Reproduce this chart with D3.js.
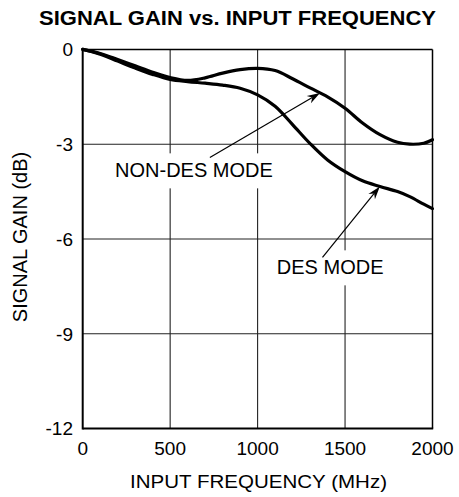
<!DOCTYPE html>
<html>
<head>
<meta charset="utf-8">
<script src="https://cdn.jsdelivr.net/npm/d3@7"></script>
<style>
  html, body { margin: 0; padding: 0; background: #fff; }
  svg { display: block; }
  text { font-family: "Liberation Sans", Arial, Helvetica, sans-serif; fill: #000; }
</style>
</head>
<body>
<svg id="chart" width="459" height="497"></svg>
<script>
// Frequency sample points (MHz)
const freq = [0, 100, 200, 300, 400, 500, 600, 700, 800, 900, 1000, 1100, 1200, 1300, 1400, 1500, 1600, 1700, 1800, 1870, 1950, 2000];
// Signal gain (dB), non-DES mode
const nonDesGain = [0, -0.13, -0.32, -0.52, -0.72, -0.89, -0.98, -0.9, -0.75, -0.64, -0.6, -0.67, -0.93, -1.22, -1.5, -1.86, -2.33, -2.7, -2.94, -3.0, -2.97, -2.86];
// Signal gain (dB), DES mode
const desGain = [0, -0.15, -0.37, -0.59, -0.79, -0.95, -1.02, -1.07, -1.13, -1.23, -1.44, -1.8, -2.38, -2.98, -3.5, -3.87, -4.16, -4.34, -4.5, -4.66, -4.9, -5.04];

const xTicks = [0, 500, 1000, 1500, 2000];
const yTicks = [0, -3, -6, -9, -12];

const titleText = "SIGNAL GAIN vs. INPUT FREQUENCY";
const xTitle = "INPUT FREQUENCY (MHz)";
const yTitle = "SIGNAL GAIN (dB)";

// Callouts: label anchor (freq, dB), arrow tail (freq, dB), arrow target frequency on its curve
const callouts = [
  { label: "NON-DES MODE", labelF: 185, labelG: -4.05, tailF: 727, tailG: -3.42, targetF: 1357, series: "nonDes" },
  { label: "DES MODE", labelF: 1110, labelG: -7.12, tailF: 1371, tailG: -6.58, targetF: 1699, series: "des" }
];

const svg = d3.select("#chart");
const plot = { left: 82.7, right: 432.5, top: 49.4, bottom: 428.5 };

const x = d3.scaleLinear().domain([0, 2000]).range([plot.left, plot.right]);
const y = d3.scaleLinear().domain([-12, 0]).range([plot.bottom, plot.top]);

// Title
svg.append("text")
  .attr("x", 39).attr("y", 25)
  .attr("font-size", 20).attr("font-weight", "bold")
  .attr("textLength", 397).attr("lengthAdjust", "spacingAndGlyphs")
  .text(titleText);

// Grid lines
const grid = svg.append("g").attr("stroke", "#222").attr("stroke-width", 1.1);
grid.selectAll("line.v").data(xTicks.slice(1, -1)).join("line")
  .attr("x1", d => x(d)).attr("x2", d => x(d))
  .attr("y1", plot.top).attr("y2", plot.bottom);
grid.selectAll("line.h").data(yTicks.slice(1, -1)).join("line")
  .attr("x1", plot.left).attr("x2", plot.right)
  .attr("y1", d => y(d)).attr("y2", d => y(d));

// Frame
svg.append("line").attr("x1", plot.left).attr("x2", plot.right).attr("y1", plot.top).attr("y2", plot.top)
  .attr("stroke", "#000").attr("stroke-width", 1.5);
svg.append("line").attr("x1", plot.right).attr("x2", plot.right).attr("y1", plot.top).attr("y2", plot.bottom)
  .attr("stroke", "#000").attr("stroke-width", 1.5);
svg.append("line").attr("x1", plot.left).attr("x2", plot.left).attr("y1", plot.top - 0.7).attr("y2", plot.bottom + 1)
  .attr("stroke", "#000").attr("stroke-width", 2);
svg.append("line").attr("x1", plot.left).attr("x2", plot.right + 0.7).attr("y1", plot.bottom).attr("y2", plot.bottom)
  .attr("stroke", "#000").attr("stroke-width", 2);

// Tick labels
svg.append("g").selectAll("text").data(yTicks).join("text")
  .attr("x", 73).attr("y", d => y(d)).attr("dy", "0.36em")
  .attr("text-anchor", "end").attr("font-size", 19)
  .text(d => d);
svg.append("g").selectAll("text").data(xTicks).join("text")
  .attr("x", d => x(d)).attr("y", 455)
  .attr("text-anchor", "middle").attr("font-size", 19)
  .text(d => d);

// Axis titles
svg.append("text")
  .attr("x", 130).attr("y", 488)
  .attr("font-size", 19)
  .attr("textLength", 257).attr("lengthAdjust", "spacingAndGlyphs")
  .text(xTitle);
svg.append("text")
  .attr("transform", "translate(27,237) rotate(-90)")
  .attr("text-anchor", "middle").attr("font-size", 20)
  .text(yTitle);

// Curves
const seriesData = {
  nonDes: freq.map((f, i) => [f, nonDesGain[i]]),
  des: freq.map((f, i) => [f, desGain[i]])
};
const line = d3.line().x(d => x(d[0])).y(d => y(d[1])).curve(d3.curveCatmullRom.alpha(0.5));
const curves = svg.append("g").attr("fill", "none").attr("stroke", "#000").attr("stroke-width", 3.2)
  .attr("stroke-linejoin", "round").attr("stroke-linecap", "round");
curves.append("path").attr("d", line(seriesData.nonDes));
curves.append("path").attr("d", line(seriesData.des));

// Callout labels with white knock-out background, then arrows
const gainAt = (series, f) => {
  const g = series === "nonDes" ? nonDesGain : desGain;
  const i = d3.bisectLeft(freq, f);
  if (freq[i] === f) return g[i];
  const t = (f - freq[i - 1]) / (freq[i] - freq[i - 1]);
  return g[i - 1] + t * (g[i] - g[i - 1]);
};

callouts.forEach(c => {
  const lx = x(c.labelF), ly = y(c.labelG);
  const t = svg.append("text")
    .attr("x", lx).attr("y", ly)
    .attr("font-size", 20)
    .text(c.label);
  const bb = t.node().getBBox();
  svg.insert("rect", () => t.node())
    .attr("x", bb.x - 2).attr("y", ly - 24)
    .attr("width", bb.width + 4).attr("height", 35)
    .attr("fill", "#fff");

  const x0 = x(c.tailF), y0 = y(c.tailG);
  const x1 = x(c.targetF), y1 = y(gainAt(c.series, c.targetF));
  const ang = Math.atan2(y1 - y0, x1 - x0);
  const len = 13, half = 4.2, notch = 9;
  const ux = Math.cos(ang), uy = Math.sin(ang);
  const px = -uy, py = ux;
  svg.append("line")
    .attr("x1", x0).attr("y1", y0)
    .attr("x2", x1 - ux * notch).attr("y2", y1 - uy * notch)
    .attr("stroke", "#000").attr("stroke-width", 1.2);
  const head = [
    [x1, y1],
    [x1 - ux * len + px * half, y1 - uy * len + py * half],
    [x1 - ux * notch, y1 - uy * notch],
    [x1 - ux * len - px * half, y1 - uy * len - py * half]
  ];
  svg.append("path")
    .attr("d", "M" + head.map(p => p.join(",")).join("L") + "Z")
    .attr("fill", "#000");
});
</script>
</body>
</html>
